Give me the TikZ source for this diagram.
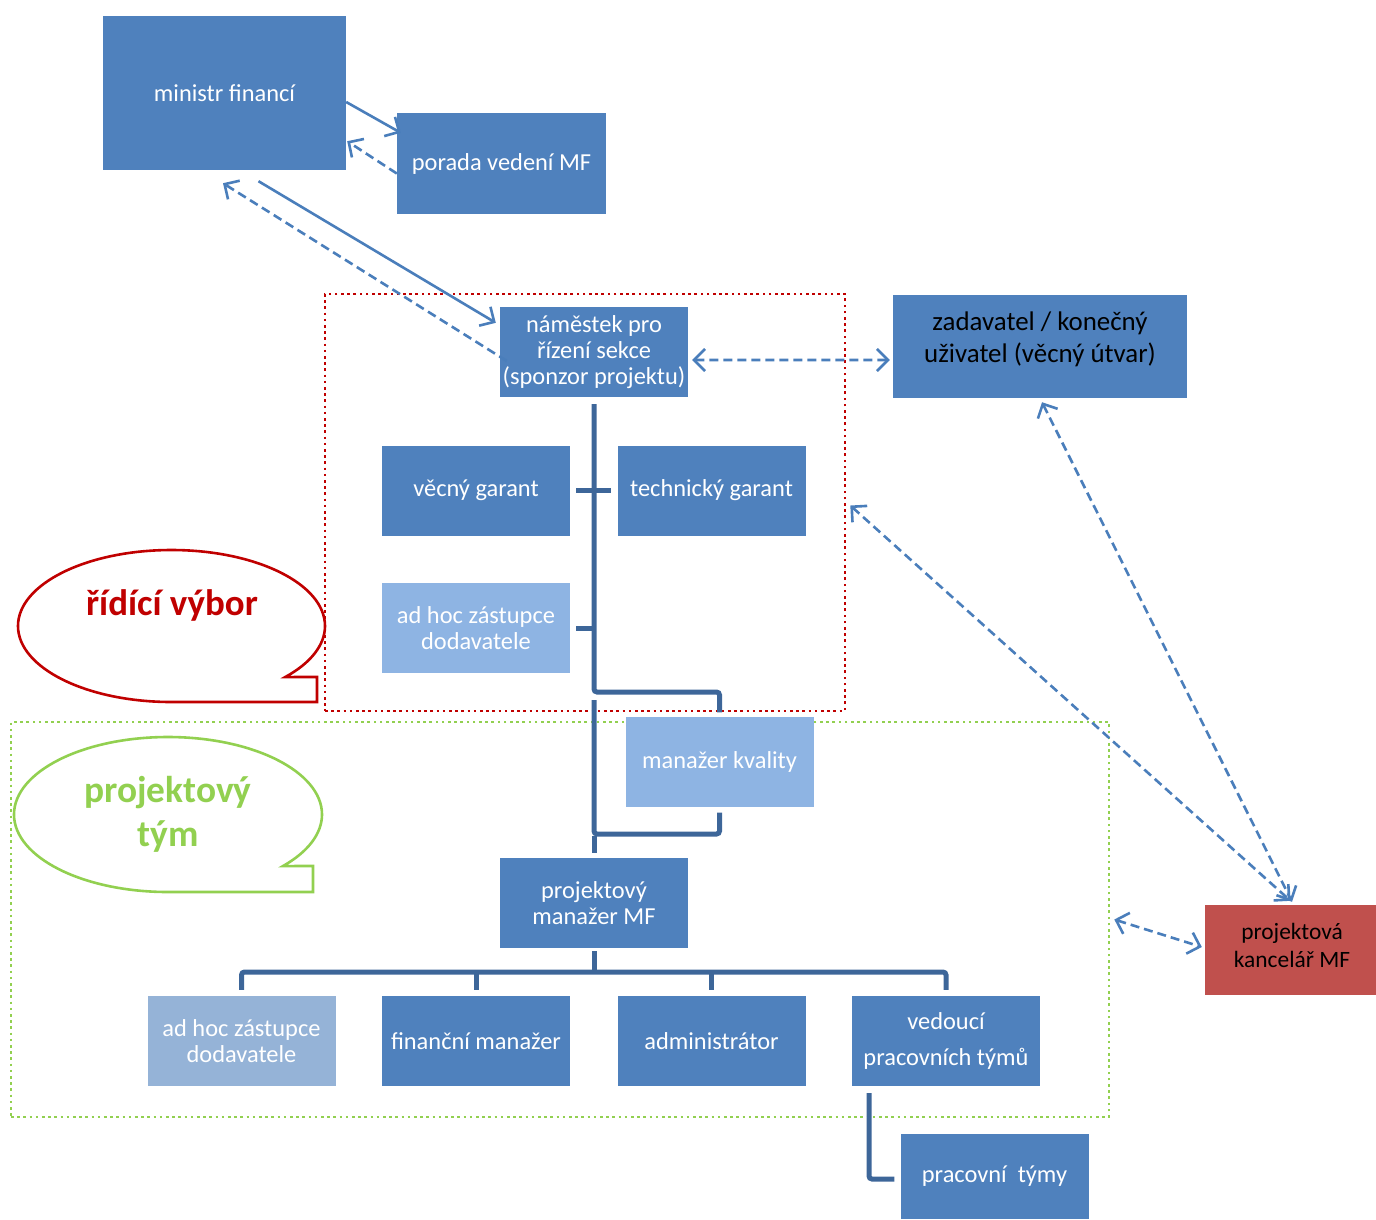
\documentclass[tikz,border=0pt]{standalone}
\usepackage{fontspec}
\setmainfont{Carlito}
\usetikzlibrary{arrows.meta}

\definecolor{boxblue}{HTML}{4F81BD}
\definecolor{lightblue}{HTML}{8EB4E3}
\definecolor{greyblue}{HTML}{95B3D7}
\definecolor{boxred}{HTML}{C0504D}
\definecolor{orgline}{HTML}{3D6699}
\definecolor{arrowblue}{HTML}{4A7EBB}
\definecolor{dotred}{HTML}{C00000}
\definecolor{dotgreen}{HTML}{92D050}

\tikzset{
  box/.style={fill=boxblue, text=white, align=center, inner sep=0pt,
    font=\fontsize{24.5}{26}\selectfont},
  orgbox/.style={box, minimum width=188bp, minimum height=90bp},
  label/.style={align=center, inner sep=0pt},
  org/.style={draw=orgline, line width=5bp, rounded corners=3bp},
  barb/.style={Straight Barb[length=11bp, width=22bp, line width=2.6bp]},
  link/.style={draw=arrowblue, line width=2.6bp, arrows={-Straight Barb[length=11bp, width=22bp, line width=2.6bp]}},
  duallink/.style={link, arrows={Straight Barb[length=11bp, width=22bp, line width=2.6bp]-Straight Barb[length=11bp, width=22bp, line width=2.6bp]}},
  dashline/.style={dash pattern=on 9bp off 5bp},
  frame/.style={line width=2.6bp, dash pattern=on 2.6bp off 3.6bp, inner sep=0pt},
  calloutline/.style={line width=2.6bp, fill=white, line join=miter}
}

\begin{document}
\begin{tikzpicture}[x=1bp, y=-1bp]
\useasboundingbox (0,0) rectangle (1376,1219);

% speech bubbles
\draw[calloutline, draw=dotred]
  (171.5,702) arc[start angle=270, end angle=-42.2, x radius=153.5bp, y radius=76bp]
  -- (317,677) -- (317,702) -- cycle;
\node[text=dotred, font=\bfseries\fontsize{37}{40}\selectfont] (rvtext) at (172,605) {řídící výbor};

\draw[calloutline, draw=dotgreen]
  (168,892) arc[start angle=270, end angle=-41.7, x radius=154bp, y radius=77.5bp]
  -- (313,866) -- (313,892) -- cycle;
\node[text=dotgreen, align=center, font=\bfseries\fontsize{37.5}{44}\selectfont] (pttext) at (168,814) {projektový\\tým};

% committee and team frames
\node[frame, draw=dotred, minimum width=520bp, minimum height=417bp] (rv) at (585,502.5) {};
\node[frame, draw=dotgreen, minimum width=1098bp, minimum height=395bp] (pt) at (560,919.5) {};

% boxes
\node[box, minimum width=243bp, minimum height=154bp] (min) at (224.5,93) {ministr financí};
\node[box, minimum width=209bp, minimum height=101bp] (por) at (501.5,163.5) {porada vedení MF};
\node[orgbox] (nam) at (594,352) {náměstek pro\\řízení sekce\\(sponzor projektu)};
\node[box, minimum width=294bp, minimum height=103bp] (zad) at (1040,346.5) {};
\node[label, font=\fontsize{27}{32}\selectfont] (zadtext) at (1040,339) {zadavatel / konečný\\uživatel (věcný útvar)};
\node[orgbox] (vec) at (476,490.5) {věcný garant};
\node[orgbox] (tech) at (711.5,490.5) {technický garant};
\node[orgbox, fill=lightblue] (ah1) at (476,628) {ad hoc zástupce\\dodavatele};
\node[orgbox, fill=lightblue] (mk) at (719.5,761.5) {manažer kvality};
\node[orgbox] (pm) at (594,903) {projektový\\manažer MF};
\node[orgbox, fill=greyblue] (ah2) at (241.5,1041) {ad hoc zástupce\\dodavatele};
\node[orgbox] (fin) at (476,1041) {finanční manažer};
\node[orgbox] (adm) at (711.5,1041) {administrátor};
\node[orgbox, font=\fontsize{24.5}{36}\selectfont] (ved) at (946,1041) {vedoucí\\pracovních týmů};
\node[orgbox, minimum height=85bp] (prac) at (994.5,1176.5) {pracovní~ týmy};
\node[box, fill=boxred, minimum width=171bp, minimum height=90bp] (pk) at (1290.5,950) {};
\node[label, font=\fontsize{23.5}{28}\selectfont] (pktext) at (1292,945) {projektová\\kancelář MF};

% organisational lines
\coordinate (bend1) at (594,692);
\coordinate (loop) at (594,834);
\coordinate (bus) at (594,972);
\draw[org] ([yshift=-7bp]nam.south) -- (bend1) -| ([yshift=4bp]mk.north);
\draw[org] ([yshift=-6bp]mk.south) |- (loop) -- (594,700);
\draw[org, rounded corners=0bp] (594,836) -- ([yshift=5bp]pm.north);
\draw[org, rounded corners=0bp] ([xshift=6bp]vec.east) -- ([xshift=-6bp]tech.west);
\draw[org, rounded corners=0bp] ([xshift=6bp]ah1.east) -- (ah1.east -| nam.south);
\draw[org, rounded corners=0bp] ([yshift=-3bp]pm.south) -- (bus);
\draw[org] ([yshift=6bp]ah2.north) |- (bus) -| ([yshift=6bp]ved.north);
\draw[org, rounded corners=0bp] ([yshift=6bp]fin.north) -- (fin.north |- bus);
\draw[org, rounded corners=0bp] ([yshift=6bp]adm.north) -- (adm.north |- bus);
\draw[org] ([shift={(-77bp,-7bp)}]ved.south) |- ([shift={(-6bp,-2.5bp)}]prac.west);

% reporting links
\draw[link] ([yshift=-9bp]min.east) -- ([shift={(4bp,-20bp)}]por.north west);
\draw[link, dashline] ([yshift=-10bp]por.west) -- ([shift={(1bp,29bp)}]min.south east);
\draw[link] ([shift={(34bp,-11bp)}]min.south) -- ([shift={(-4bp,-16bp)}]nam.north west);
\draw[link, dashline] ([shift={(7bp,-9bp)}]nam.west) -- ([shift={(-1.5bp,-13bp)}]min.south);
\draw[duallink, dashline] ([shift={(4bp,-8bp)}]nam.east) -- ([shift={(-3bp,-13.5bp)}]zad.west);
\draw[duallink, dashline] ([shift={(2bp,-4bp)}]zad.south) -- ([shift={(1.5bp,3bp)}]pk.north);
\draw[duallink, dashline] ([shift={(4bp,-3bp)}]rv.east) -- ([shift={(0bp,4bp)}]pk.north);
\draw[duallink, dashline] ([xshift=4bp]pt.east) -- ([shift={(-3bp,3bp)}]pk.west);
\end{tikzpicture}
\end{document}
